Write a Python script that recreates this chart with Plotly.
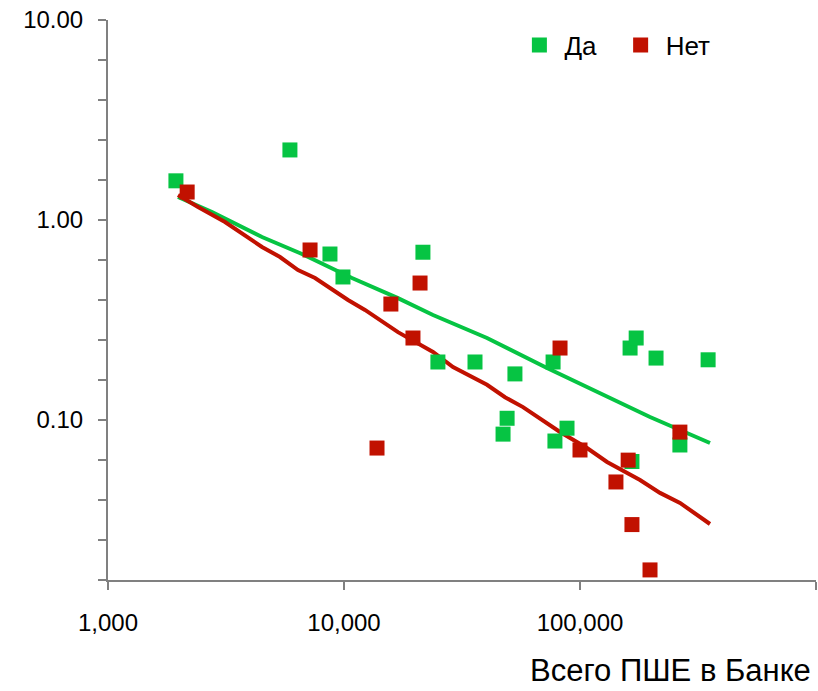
import plotly.graph_objects as go

# ---- data ----
da_x = [1940, 5900, 8720, 9900, 21600, 25000, 35900, 53000, 49100, 47200,
        76900, 78300, 88100, 163000, 173000, 210000, 265000, 349000, 166000]
da_y = [1.57, 2.24, 0.676, 0.519, 0.69, 0.195, 0.195, 0.17, 0.102, 0.085,
        0.195, 0.0785, 0.091, 0.229, 0.257, 0.204, 0.075, 0.20, 0.062]

net_x = [2165, 7180, 15800, 21000, 19600, 13800, 82300, 100000, 160000,
         142000, 166000, 198000, 265000]
net_y = [1.38, 0.708, 0.38, 0.484, 0.257, 0.0724, 0.229, 0.0708, 0.063,
         0.049, 0.030, 0.0178, 0.087]

da_fit_x = [1980, 2759, 4493, 6637, 10810, 16930, 23830, 40360, 72480,
            130200, 198000, 355500]
da_fit_y = [1.303, 1.096, 0.822, 0.676, 0.513, 0.407, 0.335, 0.257, 0.182,
            0.130, 0.1035, 0.0767]

net_fit_x = [1980, 2407, 3132, 4493, 5356, 6385, 7539, 10400, 12270, 16930,
             23830, 28970, 40360, 48110, 57340, 69700, 82290, 107100, 130200,
             179600, 218300, 265300, 355500]
net_fit_y = [1.334, 1.161, 0.977, 0.733, 0.653, 0.562, 0.513, 0.398, 0.355,
             0.275, 0.219, 0.184, 0.150, 0.130, 0.116, 0.100, 0.0871, 0.0724,
             0.0617, 0.0501, 0.0432, 0.0385, 0.0302]

x_tickvals = [1000, 10000, 100000, 1000000]
x_ticktext = ["1,000", "10,000", "100,000", ""]
y_labels = {1: "10.00", 0: "1.00", -1: "0.10"}

GREEN = "#06C443"
RED = "#C11100"
FONT = "Liberation Sans, Arial, sans-serif"

fig = go.Figure()
fig.add_trace(go.Scatter(x=da_fit_x, y=da_fit_y, mode="lines",
                         line=dict(color=GREEN, width=4), showlegend=False,
                         hoverinfo="skip"))
fig.add_trace(go.Scatter(x=net_fit_x, y=net_fit_y, mode="lines",
                         line=dict(color=RED, width=4), showlegend=False,
                         hoverinfo="skip"))
fig.add_trace(go.Scatter(x=da_x, y=da_y, mode="markers", name="Да",
                         legend="legend",
                         marker=dict(symbol="square", size=15, color=GREEN)))
fig.add_trace(go.Scatter(x=net_x, y=net_y, mode="markers", name="Нет",
                         legend="legend2",
                         marker=dict(symbol="square", size=15, color=RED)))

# y ticks every 0.2 decade, labels only at whole decades
y_tickvals = []
y_ticktext = []
for k in range(-9, 6):
    e = k * 0.2
    y_tickvals.append(10 ** e)
    y_ticktext.append(y_labels.get(int(round(e)), "") if abs(e - round(e)) < 1e-9 else "")

leg_common = dict(orientation="h", yanchor="middle", xanchor="left",
                  font=dict(size=26), bgcolor="rgba(0,0,0,0)", itemwidth=40)

fig.update_layout(
    width=818, height=691,
    margin=dict(l=108, r=2, t=20, b=111),
    paper_bgcolor="white", plot_bgcolor="white",
    font=dict(family=FONT, size=24, color="black"),
    showlegend=True,
    legend=dict(x=0.574, y=0.955, **leg_common),
    legend2=dict(x=0.717, y=0.955, **leg_common),
    xaxis=dict(type="log", range=[3, 6], showgrid=False, zeroline=False,
               automargin=False, ticklabeloverflow="allow",
               showline=True, linecolor="#808080", linewidth=2,
               tickvals=x_tickvals, ticktext=x_ticktext,
               ticks="outside", ticklen=8, tickwidth=2, tickcolor="#808080",
               ticklabelstandoff=12, tickfont=dict(size=24)),
    yaxis=dict(type="log", range=[-1.8, 1], showgrid=False, zeroline=False,
               automargin=False, ticklabeloverflow="allow",
               showline=True, linecolor="#808080", linewidth=2,
               tickvals=y_tickvals, ticktext=y_ticktext,
               ticks="outside", ticklen=8, tickwidth=2, tickcolor="#808080",
               ticklabelstandoff=10, tickfont=dict(size=24)),
    annotations=[dict(text="Всего ПШЕ в Банке", xref="paper", yref="paper",
                      x=0.996, y=-0.197, xanchor="right", yanchor="bottom",
                      showarrow=False, font=dict(size=31))],
)

# remove the page's default body margin so the 818x691 figure fills the window
fig.write_html("out.html",
               config={"displayModeBar": False},
               post_script="document.body.style.margin='0px';"
                           "document.body.style.overflow='hidden';")
